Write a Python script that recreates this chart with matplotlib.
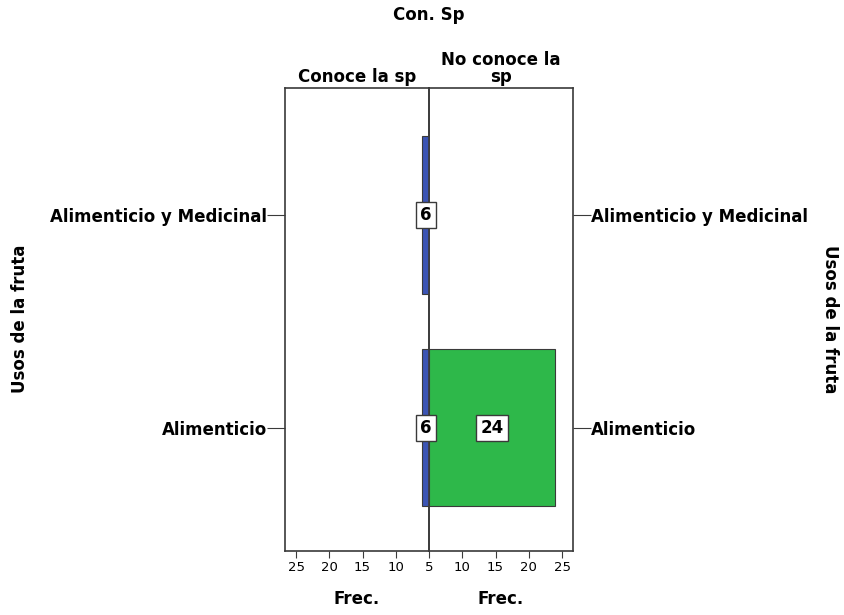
import matplotlib.pyplot as plt
import numpy as np

USOS = ['Alimenticio', 'Alimenticio y Medicinal']
CONOCE = [6, 6]
NO_CONOCE = [24, 0]
TICKS = [5, 10, 15, 20, 25]
BASE = 5

BLUE = '#3b54b4'
GREEN = '#2eb84a'
EDGE = '#3a3a3a'
FS = 12


def label_box(ax, x, y, text):
    ax.text(x, y, text, ha='center', va='center', fontsize=FS, fontweight='bold',
            bbox=dict(boxstyle='square,pad=0.25', fc='white', ec=EDGE, lw=1), zorder=5)


def main():
    fig = plt.figure(figsize=(8.44, 6.15), dpi=100)
    right = fig.add_axes([429 / 844, 1 - 551 / 615, 144 / 844, 463 / 615])
    left = fig.add_axes([285 / 844, 1 - 551 / 615, 144 / 844, 463 / 615], sharey=right)
    left.patch.set_alpha(0)

    y = np.arange(len(USOS))
    h = 0.74

    left.barh(y, np.array(CONOCE) - BASE, left=BASE, height=h, color=BLUE, edgecolor=EDGE, lw=0.8)
    for i, v in enumerate(CONOCE):
        if v > 0:
            label_box(left, BASE + 0.5, y[i], str(v))

    vals = np.array(NO_CONOCE)
    mask = vals > 0
    right.barh(y[mask], vals[mask] - BASE, left=BASE, height=h, color=GREEN, edgecolor=EDGE, lw=0.8)
    for i, v in enumerate(NO_CONOCE):
        if v > 0:
            label_box(right, BASE + (v - BASE) / 2, y[i], str(v))

    left.set_xlim(26.67, BASE)
    right.set_xlim(BASE, 26.65)
    left.set_ylim(-0.58, 1.598)

    for ax in (left, right):
        ax.tick_params(axis='x', labelsize=9.5, length=5, color=EDGE, pad=2)
        ax.set_xlabel('Frec.', fontsize=FS, fontweight='bold', labelpad=12)
        for s in ax.spines.values():
            s.set_color(EDGE)
            s.set_linewidth(1.2)
    left.set_xticks(TICKS[1:])
    right.set_xticks(TICKS)

    left.set_yticks(y)
    left.set_yticklabels(USOS, fontsize=FS, fontweight='bold')
    left.tick_params(axis='y', length=13, color=EDGE, pad=0)

    right.yaxis.tick_right()
    right.tick_params(axis='y', which='both', left=False, right=True, labelleft=False,
                      labelright=True, length=13, color=EDGE, pad=0)
    right.set_yticks(y)
    right.set_yticklabels(USOS, fontsize=FS, fontweight='bold')

    fig.text(20 / 844, 1 - 319 / 615, 'Usos de la fruta', rotation=90, ha='center', va='center',
             fontsize=FS, fontweight='bold')
    fig.text(830 / 844, 1 - 319 / 615, 'Usos de la fruta', rotation=270, ha='center', va='center',
             fontsize=FS, fontweight='bold')

    left.set_title('Conoce la sp', fontsize=FS, fontweight='bold', pad=4)
    right.set_title('No conoce la\nsp', fontsize=FS, fontweight='bold', pad=4, linespacing=0.95)
    fig.text(429 / 844, 1 - 15 / 615, 'Con. Sp', ha='center', va='center', fontsize=FS, fontweight='bold')

    fig.savefig('out.png', dpi=100)


if __name__ == '__main__':
    main()
